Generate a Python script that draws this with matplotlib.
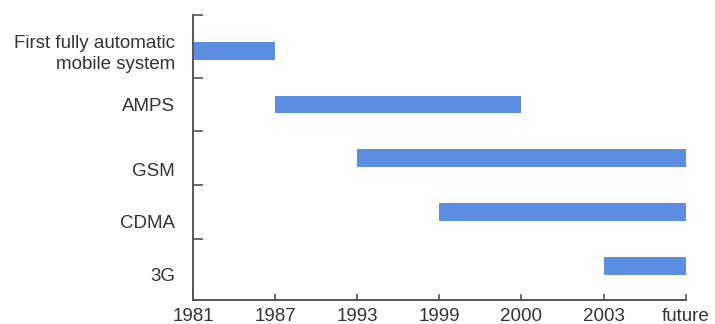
import matplotlib
matplotlib.use("Agg")
import matplotlib.pyplot as plt

# Timeline of mobile systems
x_labels = ["1981", "1987", "1993", "1999", "2000", "2003", "future"]
systems = ["First fully automatic\nmobile system", "AMPS", "GSM", "CDMA", "3G"]
start = ["1981", "1987", "1993", "1999", "2003"]
end = ["1987", "2000", "future", "future", "future"]

plt.rcParams["font.family"] = ["Liberation Sans", "DejaVu Sans"]
text_color = "#333333"
axis_color = "#555555"
bar_color = "#5b8ee0"

fig = plt.figure(figsize=(7.15, 3.24), dpi=100)
ax = fig.add_axes([0.270, 0.074, 0.689, 0.880])

pos = {lab: i for i, lab in enumerate(x_labels)}
rows = range(len(systems))
lefts = [pos[s] for s in start]
widths = [pos[e] - pos[s] for s, e in zip(start, end)]
ax.barh(list(rows), widths, left=lefts, height=0.33, color=bar_color, linewidth=0)

ax.set_xlim(0, len(x_labels) - 1)
ax.set_ylim(4.64, -0.67)

for side in ("top", "right"):
    ax.spines[side].set_visible(False)
for side in ("left", "bottom"):
    ax.spines[side].set_color(axis_color)
    ax.spines[side].set_linewidth(1.4)

ax.set_xticks(range(len(x_labels)), x_labels)
ax.tick_params(axis="x", direction="in", length=4.5, width=1.2, color=axis_color,
               labelsize=13.5, labelcolor=text_color, pad=6)

# category labels sit in the bands; band separators are drawn as minor ticks
label_y = [-0.02, 1.0, 2.2, 3.17, 4.17]
ax.set_yticks(label_y, systems)
ax.tick_params(axis="y", which="major", length=0, pad=13,
               labelsize=13.5, labelcolor=text_color)
for t in ax.get_yticklabels():
    t.set_horizontalalignment("right")
    t.set_linespacing(1.3)
ax.set_yticks([-0.67, 0.5, 1.5, 2.5, 3.5], minor=True)
ax.tick_params(axis="y", which="minor", direction="in", length=7.5, width=1.2,
               color=axis_color)

fig.savefig("out.png", dpi=100, facecolor="white")
